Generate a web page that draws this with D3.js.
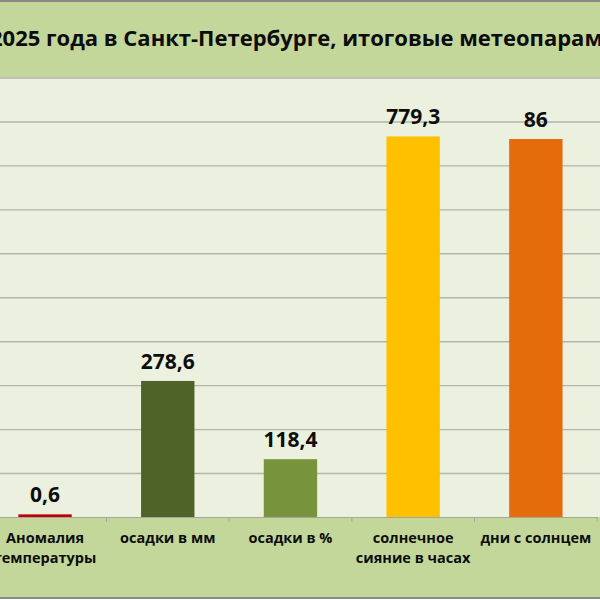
<!DOCTYPE html>
<html>
<head>
<meta charset="utf-8">
<script src="https://cdn.jsdelivr.net/npm/d3@7"></script>
<style>
  body { margin: 0; background: #fff; }
  svg { display: block; }
  text { font-family: "Open Sans", "Noto Sans", sans-serif; fill: #0d0d0d; }
</style>
</head>
<body>
<svg id="chart" width="600" height="600"></svg>
<script>
// data
const title = "2025 года в Санкт-Петербурге, итоговые метеопараметры";
const categories = ["Аномалия\nтемпературы", "осадки в мм", "осадки в %", "солнечное\nсияние в часах", "дни с солнцем"];
const values = [0.6, 278.6, 118.4, 779.3, 86];
// anomaly and sunny days sit on the secondary axis (0..100)
const secondary = [true, false, false, false, true];
const barColors = ["#c00000", "#4f6228", "#77933c", "#ffc000", "#e46c0a"];

const svg = d3.select("#chart");

let width = 600,
    height = 600,
    plotTop = 77.5,
    plotBottom = 517,
    plotLeft = -16.3,
    step = 122.7;

const ru = d3.formatLocale({decimal: ",", thousands: " ", grouping: [3], currency: ["", ""]});
const fmt = ru.format(".1~f");

//chart area and plot area backgrounds
svg.append("rect")
  .attr("x", -20).attr("y", 1)
  .attr("width", width + 40).attr("height", 597)
  .attr("fill", "#c4d79b")
  .attr("stroke", "#8a8a8a")
  .attr("stroke-width", 2);

svg.append("rect")
  .attr("x", plotLeft).attr("y", plotTop)
  .attr("width", width + 40).attr("height", plotBottom - plotTop)
  .attr("fill", "#ebf1de");

//scales
const x = d3.scaleBand()
  .domain(categories)
  .range([plotLeft, plotLeft + step * categories.length])
  .padding(0);

const y = d3.scaleLinear()
  .domain([0, 900])
  .range([plotBottom, plotTop]);

const y2 = d3.scaleLinear()
  .domain([0, 100])
  .range([plotBottom, plotTop]);

//gridlines
svg.append("g")
  .attr("transform", "translate(" + plotLeft + ",0)")
  .call(d3.axisLeft(y)
    .tickValues(d3.range(90, 901, 90))
    .tickSize(-(width + 40))
    .tickFormat(""))
  .call(g => g.select(".domain").remove())
  .call(g => g.selectAll(".tick line")
    .attr("stroke", "#b2b5aa")
    .attr("stroke-width", 1.4));

//bars
const barW = x.bandwidth() * 0.435;
const yFor = (d, i) => secondary[i] ? y2(d) : y(d);

svg.append("g")
  .selectAll("rect")
  .data(values)
  .join("rect")
    .attr("x", (d, i) => x(categories[i]) + (x.bandwidth() - barW) / 2)
    .attr("y", (d, i) => yFor(d, i))
    .attr("width", barW)
    .attr("height", (d, i) => plotBottom - yFor(d, i))
    .attr("fill", (d, i) => barColors[i]);

//value labels
svg.append("g")
  .selectAll("text")
  .data(values)
  .join("text")
    .attr("x", (d, i) => x(categories[i]) + x.bandwidth() / 2)
    .attr("y", (d, i) => yFor(d, i) - 12)
    .attr("text-anchor", "middle")
    .style("font-size", "21px")
    .style("font-weight", "bold")
    .text(d => fmt(d));

//category axis
const xAxis = svg.append("g")
  .attr("transform", "translate(0," + plotBottom + ")")
  .call(d3.axisBottom(x).tickSize(0).tickPadding(0));

xAxis.select(".domain")
  .attr("stroke", "#a3a69a")
  .attr("stroke-width", 1.2);

xAxis.selectAll(".tick text")
  .attr("dy", null)
  .style("font-size", "14.5px")
  .style("font-weight", "bold")
  .each(function(d) {
    const t = d3.select(this).text(null);
    d.split("\n").forEach((line, i) => {
      t.append("tspan").attr("x", 0).attr("y", 26 + i * 20).text(line);
    });
  });

//tick marks sit on the category boundaries
xAxis.selectAll(".edge")
  .data(categories.map(c => x(c)).concat([x(categories[categories.length - 1]) + x.bandwidth()]))
  .join("line")
    .attr("class", "edge")
    .attr("x1", d => d).attr("x2", d => d)
    .attr("y1", 0).attr("y2", 5)
    .attr("stroke", "#a3a69a");

//title
svg.append("text")
  .attr("x", -10)
  .attr("y", 46)
  .style("font-size", "22px")
  .style("font-weight", "bold")
  .text(title);
</script>
</body>
</html>
